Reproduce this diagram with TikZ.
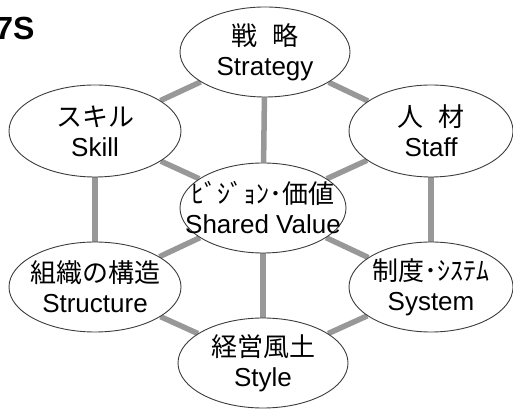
\documentclass[tikz,border=0pt]{standalone}
\usepackage{fontspec}
\setmainfont{Liberation Sans}
\newfontfamily\jp{Noto Sans CJK JP}
\usetikzlibrary{shapes.geometric,backgrounds}
\definecolor{linkgray}{RGB}{152,152,152}
\definecolor{rimgray}{RGB}{60,60,60}
\tikzset{
    sbox/.style={ellipse, draw=rimgray, line width=0.9pt, fill=white, inner sep=0pt,
        minimum width=170pt, minimum height=90pt}
}
\tikzset{
    stext/.style={inner sep=0pt, align=center, font=\fontsize{26}{30}\selectfont}
}
\tikzset{
    link/.style={draw=linkgray, line width=5.5pt}
}
\begin{document}
\begin{tikzpicture}[x=1pt,y=1pt]
			\useasboundingbox (0,0) rectangle (513,409);
			\node[anchor=base east, font=\fontsize{32}{36}\selectfont\bfseries] (title) at (38,369) {7S};
			% ellipses
			\node[sbox] (strategy) at (265,357) {};
			\node[sbox, minimum width=172pt, minimum height=92pt] (skill) at (95,278) {};
			\node[sbox, minimum width=164pt, minimum height=92pt] (staff) at (431,278) {};
			\node[sbox, minimum width=166pt] (value) at (263,201) {};
			\node[sbox, minimum width=172pt] (structure) at (95,122) {};
			\node[sbox, minimum width=164pt] (system) at (431,122) {};
			\node[sbox] (style) at (263,46) {};
			% texts
			\node[stext] (strategy-t) at (strategy) {{\jp 戦\hspace{0.55em}略}\\Strategy};
			\node[stext] (skill-t) at (skill) {{\jp スキル}\\Skill};
			\node[stext] (staff-t) at (staff) {{\jp 人\hspace{0.6em}材}\\Staff};
			\node[stext] (value-t) at (value) {{\jp ﾋﾞｼﾞｮﾝ･価値}\\Shared Value};
			\node[stext] (structure-t) at (structure) {{\jp 組織の構造}\\Structure};
			\node[stext] (system-t) at (system) {{\jp 制度･ｼｽﾃﾑ}\\System};
			\node[stext] (style-t) at (style) {{\jp 経営風土}\\Style};
			\begin{scope}[on background layer]
			% outer ring
			\draw[link] (strategy) -- (staff);
			\draw[link] (staff) -- (system);
			\draw[link] (system) -- (style);
			\draw[link] (style) -- (structure);
			\draw[link] (structure) -- (skill);
			\draw[link] (skill) -- (strategy);
			% spokes
			\draw[link] (value) -- (strategy);
			\draw[link] (value) -- (staff);
			\draw[link] (value) -- (system);
			\draw[link] (value) -- (style);
			\draw[link] (value) -- (structure);
			\draw[link] (value) -- (skill);
			\end{scope}
\end{tikzpicture}
\end{document}
